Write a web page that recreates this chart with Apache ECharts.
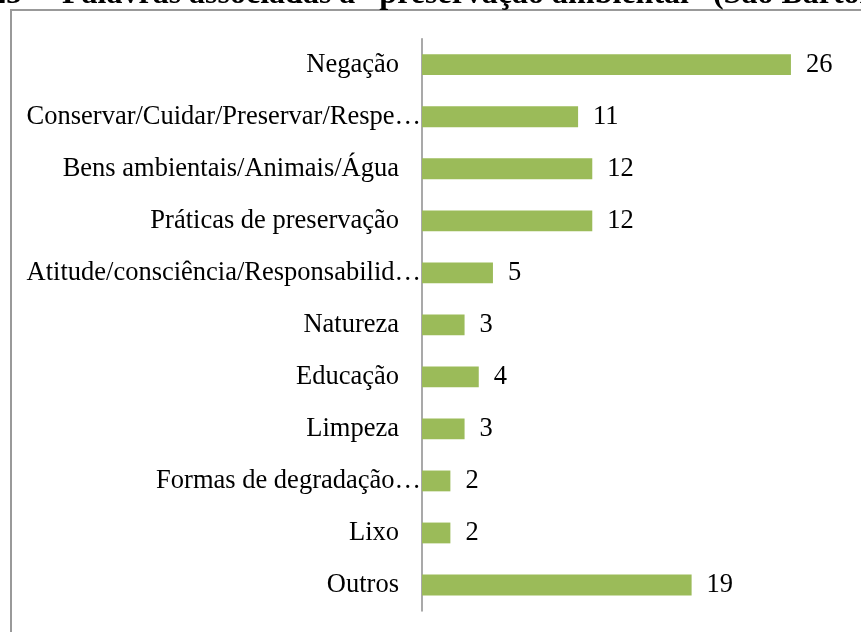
<!DOCTYPE html>
<html>
<head>
<meta charset="utf-8">
<script src="https://cdn.jsdelivr.net/npm/echarts@6/dist/echarts.min.js"></script>
<style>
  html, body { margin: 0; padding: 0; background: #fff; }
  #chart { width: 861px; height: 632px; }
</style>
</head>
<body>
<div id="chart"></div>
<script>
const titleText = '25 –  Palavras associadas a “preservação ambiental” (São Bartolomeu)'
const categories = [
  'Negação',
  'Conservar/Cuidar/Preservar/Respe…',
  'Bens ambientais/Animais/Água',
  'Práticas de preservação',
  'Atitude/consciência/Responsabilid…',
  'Natureza',
  'Educação',
  'Limpeza',
  'Formas de degradação…',
  'Lixo',
  'Outros'
]
const counts = [26, 11, 12, 12, 5, 3, 4, 3, 2, 2, 19]

const serif = "'Liberation Serif', 'Times New Roman', serif"

const chart = echarts.init(document.getElementById('chart'), null, { renderer: 'canvas' })

chart.setOption({
  animation: false,
  title: {
    text: titleText,
    left: -10,
    top: -21,
    padding: 0,
    textStyle: { fontFamily: serif, fontSize: 32, fontWeight: 'bold', color: '#000' }
  },
  // frame of the original figure, cut off on the right and at the bottom
  graphic: [{
    type: 'rect',
    shape: { x: 11, y: 10, width: 900, height: 700 },
    style: { fill: 'none', stroke: '#999', lineWidth: 2 },
    silent: true
  }],
  grid: { left: 422, right: 13.3, top: 38.7, bottom: 21, containLabel: false },
  xAxis: {
    type: 'value',
    min: 0,
    max: 30,
    show: false
  },
  yAxis: {
    type: 'category',
    inverse: true,
    data: categories,
    axisLine: { lineStyle: { color: '#8c8c8c', width: 1.5 } },
    axisTick: { show: false },
    axisLabel: {
      margin: 1,
      // truncated names run up to the axis, the others keep a gap
      formatter: function (v) {
        return v.endsWith('…') ? '{cut|' + v + '}' : '{full|' + v + '}'
      },
      rich: {
        cut: { fontFamily: serif, fontSize: 26.5, color: '#000' },
        full: { fontFamily: serif, fontSize: 26.5, color: '#000', padding: [0, 22, 0, 0] }
      }
    }
  },
  series: [{
    type: 'bar',
    data: counts,
    barWidth: '40%',
    itemStyle: { color: '#9bbb59' },
    label: {
      show: true,
      position: 'right',
      distance: 15,
      fontFamily: serif,
      fontSize: 26.5,
      color: '#000'
    }
  }]
})
</script>
</body>
</html>
